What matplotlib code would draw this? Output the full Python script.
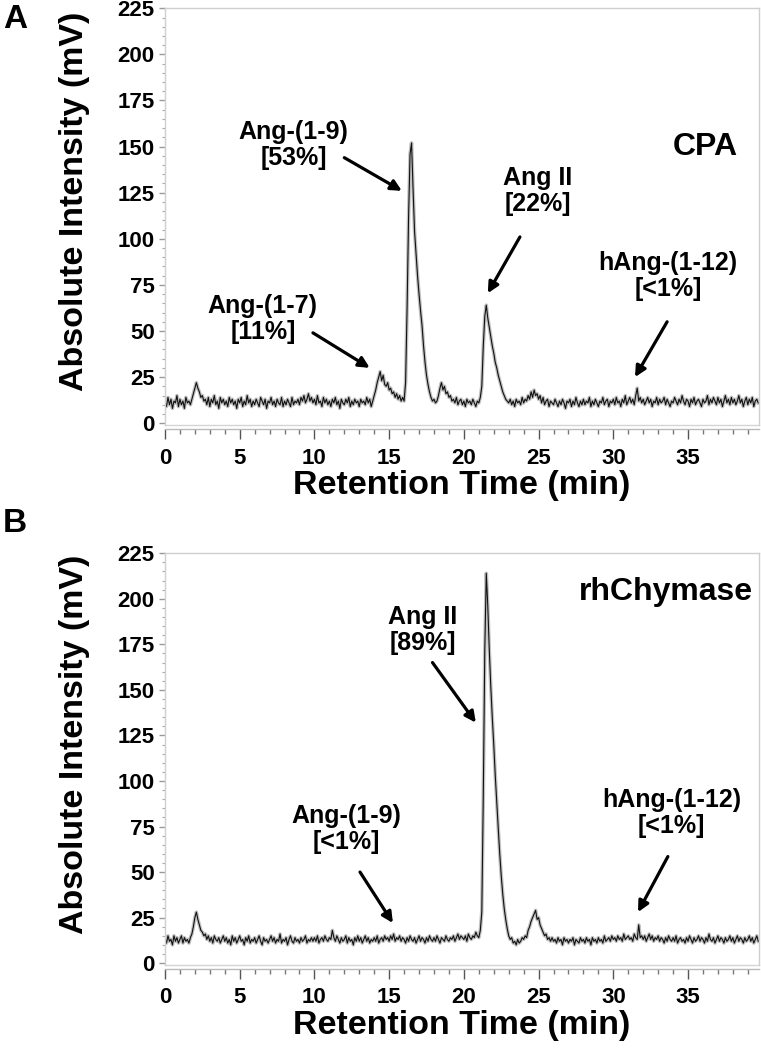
import numpy as np
import matplotlib
matplotlib.use('Agg')
import matplotlib.pyplot as plt
from matplotlib.ticker import MultipleLocator

plt.rcParams['font.family'] = ['Liberation Sans', 'DejaVu Sans']
plt.rcParams['font.weight'] = 'bold'

# detector sampling interval (min)
step = 0.1

# panel A, CPA digest (mV), one value per 0.1 min from 0.0 to 39.7
cpa = [
    12, 9, 14, 10, 13, 8, 12, 11, 15, 9,
    13, 10, 12, 8, 14, 11, 12, 10, 13, 16,
    19, 22, 19, 17, 14, 15, 12, 13, 10, 14,
    9, 13, 11, 15, 10, 12, 8, 14, 11, 13,
    10, 12, 9, 14, 11, 13, 10, 12, 8, 13,
    11, 14, 9, 12, 10, 15, 11, 13, 9, 12,
    10, 13, 11, 9, 14, 12, 10, 13, 8, 12,
    11, 14, 10, 12, 9, 13, 11, 10, 14, 9,
    12, 10, 13, 11, 9, 14, 10, 12, 11, 13,
    10, 14, 12, 15, 11, 13, 16, 12, 14, 11,
    13, 10, 15, 11, 12, 9, 14, 11, 13, 10,
    12, 9, 13, 11, 14, 10, 12, 8, 13, 11,
    10, 13, 11, 14, 9, 12, 10, 13, 11, 12,
    9, 13, 11, 12, 10, 14, 11, 13, 9, 12,
    15, 18, 22, 25, 28, 23, 26, 21, 20, 22,
    18, 19, 16, 17, 14, 16, 13, 15, 12, 14,
    12, 22, 62, 112, 146, 152, 127, 104, 92, 80,
    70, 61, 53, 42, 33, 26, 21, 17, 14, 12,
    13, 11, 12, 15, 19, 22, 18, 20, 16, 17,
    14, 15, 12, 13, 11, 14, 10, 12, 13, 10,
    12, 9, 13, 11, 12, 10, 13, 11, 9, 12,
    11, 14, 20, 42, 58, 64, 57, 52, 47, 42,
    38, 33, 30, 26, 23, 20, 17, 15, 13, 12,
    11, 13, 10, 12, 9, 13, 11, 12, 10, 14,
    11, 13, 12, 15, 13, 17, 14, 18, 15, 16,
    13, 15, 11, 14, 10, 12, 13, 9, 12, 11,
    10, 13, 11, 9, 12, 10, 13, 11, 8, 12,
    11, 13, 9, 12, 10, 14, 11, 9, 12, 10,
    13, 10, 12, 11, 14, 9, 12, 10, 13, 11,
    9, 12, 11, 14, 10, 12, 13, 9, 12, 11,
    13, 10, 14, 11, 12, 9, 13, 11, 15, 10,
    12, 14, 11, 13, 10, 15, 19, 12, 14, 11,
    13, 10, 12, 14, 11, 13, 9, 12, 11, 14,
    10, 13, 11, 12, 14, 10, 13, 11, 9, 12,
    11, 14, 12, 10, 13, 11, 15, 12, 10, 13,
    12, 9, 13, 11, 14, 10, 12, 13, 11, 9,
    13, 11, 12, 15, 10, 13, 11, 14, 12, 10,
    14, 11, 13, 9, 12, 15, 11, 13, 10, 14,
    11, 13, 10, 12, 15, 11, 13, 9, 12, 14,
    10, 13, 11, 14, 9, 12, 13, 11,
]

# panel B, rhChymase digest (mV)
chymase = [
    14, 11, 15, 12, 13, 10, 15, 12, 14, 11,
    13, 15, 11, 14, 12, 13, 11, 14, 16, 20,
    25, 28, 24, 21, 18, 17, 15, 16, 13, 15,
    12, 14, 11, 15, 13, 12, 14, 11, 13, 15,
    12, 14, 11, 13, 10, 15, 12, 14, 11, 13,
    15, 12, 13, 10, 14, 12, 15, 11, 13, 12,
    14, 11, 13, 15, 12, 10, 14, 12, 13, 11,
    13, 15, 12, 14, 11, 13, 12, 16, 11, 13,
    12, 14, 10, 13, 15, 12, 11, 14, 12, 13,
    11, 14, 12, 13, 15, 11, 13, 12, 14, 12,
    14, 12, 15, 11, 13, 14, 12, 15, 13, 12,
    14, 13, 18, 14, 12, 15, 13, 11, 14, 12,
    13, 15, 11, 14, 12, 13, 10, 14, 12, 15,
    12, 14, 11, 13, 15, 12, 14, 11, 13, 12,
    14, 12, 15, 11, 13, 14, 12, 15, 13, 14,
    12, 15, 13, 16, 12, 14, 13, 15, 12, 14,
    13, 11, 14, 12, 15, 13, 12, 14, 11, 13,
    15, 12, 14, 13, 11, 14, 12, 15, 13, 12,
    14, 12, 15, 13, 11, 14, 13, 12, 15, 13,
    12, 14, 13, 15, 12, 14, 16, 13, 15, 14,
    13, 15, 12, 16, 14, 13, 15, 14, 17, 15,
    14, 18, 28, 92, 172, 214, 196, 172, 152, 135,
    120, 103, 88, 74, 60, 48, 38, 30, 24, 19,
    15, 13, 14, 11, 12, 10, 13, 11, 12, 14,
    13, 15, 14, 18, 20, 23, 25, 27, 29, 24,
    25, 21, 19, 17, 15, 16, 13, 14, 12, 14,
    12, 13, 11, 14, 12, 13, 10, 14, 12, 13,
    11, 13, 12, 14, 10, 13, 12, 11, 14, 12,
    13, 11, 14, 12, 13, 10, 14, 12, 13, 11,
    14, 12, 13, 11, 15, 12, 13, 14, 12, 15,
    13, 14, 12, 15, 13, 14, 12, 16, 13, 14,
    15, 13, 14, 12, 16, 14, 13, 21, 14, 15,
    13, 15, 12, 14, 16, 13, 15, 12, 14, 13,
    15, 12, 14, 13, 11, 14, 12, 15, 13, 12,
    14, 12, 15, 11, 13, 14, 12, 13, 11, 14,
    12, 15, 13, 11, 14, 12, 13, 15, 12, 14,
    13, 11, 14, 12, 16, 13, 12, 14, 11, 13,
    15, 12, 14, 13, 11, 14, 12, 13, 15, 12,
    14, 11, 13, 15, 12, 14, 13, 11, 14, 12,
    13, 15, 12, 14, 11, 13, 15, 12,
]

enzymes = ['CPA', 'rhChymase']
panel_letters = ['A', 'B']
peak_labels = [
    ['Ang-(1-9)\n[53%]', 'Ang II\n[22%]', 'hAng-(1-12)\n[<1%]', 'Ang-(1-7)\n[11%]'],
    ['Ang II\n[89%]', 'Ang-(1-9)\n[<1%]', 'hAng-(1-12)\n[<1%]'],
]

# label centre, arrow tail, arrow head (data coords)
label_pos = [
    [((8.6, 151), (12.0, 144), (15.85, 126)),
     ((24.95, 126), (23.75, 101), (21.6, 70.5)),
     ((33.65, 80), (33.6, 55), (31.45, 25)),
     ((6.55, 56.5), (9.9, 49), (13.7, 30))],
    [((17.25, 183), (17.9, 165), (20.8, 132)),
     ((12.15, 73.5), (13.05, 50), (15.25, 22)),
     ((33.9, 82.5), (33.65, 58.5), (31.65, 28))],
]
title_pos = [(38.35, 150), (39.35, 204)]

fig = plt.figure(figsize=(7.61, 10.5), dpi=100)
boxes = [[0.2168, 0.5952, 0.7806, 0.3969], [0.2168, 0.0810, 0.7806, 0.3921]]
letter_y = [0.981, 0.501]
ylabel_y = [0.808, 0.291]

for i, values in enumerate([cpa, chymase]):
    ax = fig.add_axes(boxes[i])
    t = np.arange(len(values)) * step
    ax.plot(t, values, color='#999999', lw=2.6, alpha=0.6)
    ax.plot(t, values, color='#111111', lw=0.8)

    ax.set_xlim(0, 39.75)
    ax.set_ylim(-1, 225)
    ax.xaxis.set_major_locator(MultipleLocator(5))
    ax.xaxis.set_minor_locator(MultipleLocator(1))
    ax.yaxis.set_major_locator(MultipleLocator(25))
    ax.yaxis.set_minor_locator(MultipleLocator(5))

    for s in ax.spines.values():
        s.set_color('#cfcfcf')
        s.set_linewidth(1)
    ax.spines['bottom'].set_position(('outward', 3))
    ax.spines['bottom'].set_color('#bbbbbb')
    ax.plot([0, 1], [0, 0], transform=ax.transAxes, color='#d5d5d5', lw=1, clip_on=False)

    ax.tick_params(axis='x', which='major', length=7.2, width=1, color='#555555', pad=6, labelsize=16)
    ax.tick_params(axis='x', which='minor', length=3.6, width=1, color='#777777')
    ax.tick_params(axis='y', which='major', length=4.3, width=1, color='#999999', pad=3, labelsize=16)
    ax.tick_params(axis='y', which='minor', length=2.2, width=0.8, color='#aaaaaa')

    ax.set_xlabel('Retention Time (min)', fontsize=24.5, fontweight='bold', labelpad=1)
    fig.text(0.0985, ylabel_y[i], 'Absolute Intensity (mV)', rotation=90, fontsize=24.5,
             fontweight='bold', ha='center', va='center')
    fig.text(0.004, letter_y[i], panel_letters[i], fontsize=24, fontweight='bold', ha='left', va='center')

    ax.text(title_pos[i][0], title_pos[i][1], enzymes[i], fontsize=23, fontweight='bold',
            ha='right', va='center')

    for lab, (txt, tail, head) in zip(peak_labels[i], label_pos[i]):
        ax.text(txt[0], txt[1], lab, fontsize=18, fontweight='bold', ha='center', va='center',
                linespacing=1.1)
        ax.annotate('', xy=head, xytext=tail,
                    arrowprops=dict(arrowstyle='-|>', color='black', lw=2.3,
                                    mutation_scale=16, shrinkA=0, shrinkB=0))

fig.savefig('out.png', dpi=100)
